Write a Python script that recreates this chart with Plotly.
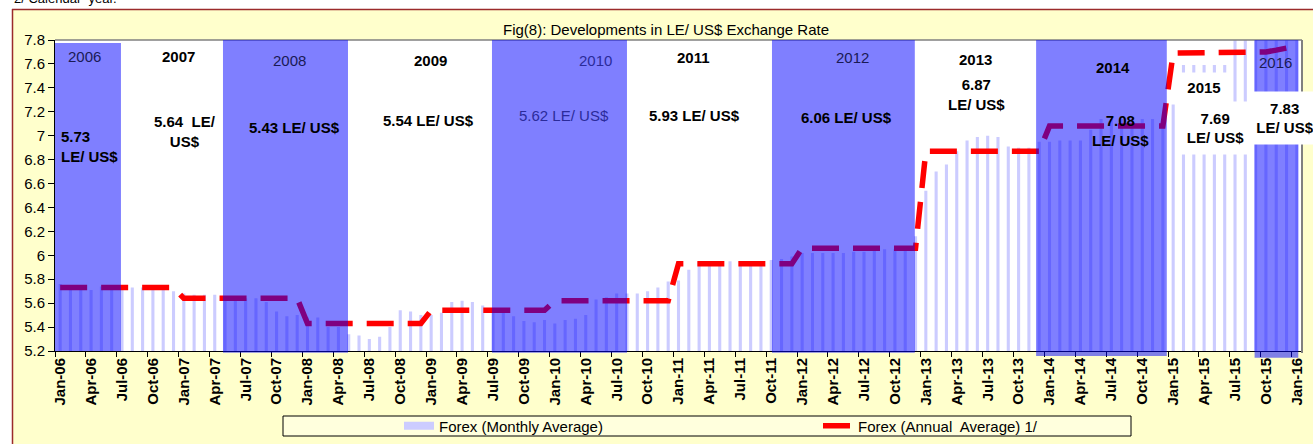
import plotly.graph_objects as go

# ---------------- data ----------------
MONTH_NAMES = ["Jan", "Feb", "Mar", "Apr", "May", "Jun",
               "Jul", "Aug", "Sep", "Oct", "Nov", "Dec"]
YEARS = [6, 7, 8, 9, 10, 11, 12, 13, 14, 15]
months = [f"{m}-{y:02d}" for y in YEARS for m in MONTH_NAMES] + ["Jan-16"]

# Forex (Monthly Average), LE per US$
monthly_avg = [
    5.76, 5.74, 5.74, 5.71, 5.74, 5.74, 5.74, 5.73, 5.73, 5.74, 5.72, 5.70,   # 2006
    5.68, 5.67, 5.67, 5.67, 5.65, 5.65, 5.64, 5.64, 5.61, 5.53, 5.49, 5.50,   # 2007
    5.48, 5.48, 5.40, 5.40, 5.34, 5.33, 5.30, 5.32, 5.40, 5.54, 5.53, 5.50,   # 2008
    5.50, 5.52, 5.61, 5.62, 5.61, 5.58, 5.54, 5.52, 5.49, 5.45, 5.44, 5.46,   # 2009
    5.43, 5.46, 5.47, 5.50, 5.63, 5.65, 5.68, 5.68, 5.68, 5.70, 5.73, 5.78,   # 2010
    5.79, 5.88, 5.94, 5.95, 5.95, 5.95, 5.95, 5.95, 5.95, 5.96, 5.97, 5.99,   # 2011
    6.02, 6.02, 6.02, 6.02, 6.02, 6.03, 6.03, 6.06, 6.05, 6.05, 6.05, 6.16,   # 2012
    6.54, 6.70, 6.76, 6.87, 6.96, 6.99, 7.00, 6.99, 6.91, 6.90, 6.90, 6.95,   # 2013
    6.95, 6.96, 6.96, 6.96, 7.05, 7.14, 7.14, 7.14, 7.14, 7.14, 7.14, 7.14,   # 2014
    7.26, 7.59, 7.59, 7.59, 7.59, 7.59, 7.83, 7.83, 7.83, 7.83, 7.83, 7.83,   # 2015
    7.83,                                                                     # 2016
]

# Forex (Annual Average) 1/ -- each month carries its calendar-year average
annual_line = (
    [5.73] * 12 + [5.64] * 12 + [5.43] * 12 + [5.54] * 12 + [5.62] * 12
    + [5.93] * 12 + [6.06] * 12 + [6.87] * 12 + [7.08] * 12
    + [7.69] * 9 + [7.70, 7.715, 7.73] + [7.75]
)

# year labels and annual-average labels
year_labels = ["2006", "2007", "2008", "2009", "2010", "2011",
               "2012", "2013", "2014", "2015", "2016"]
avg_labels = ["5.73<br>LE/ US$", "5.64 \u00a0LE/<br>US$", "5.43 LE/ US$",
              "5.54 LE/ US$", "5.62 LE/ US$", "5.93 LE/ US$", "6.06 LE/ US$",
              "6.87<br>LE/ US$", "7.08<br>LE/ US$", "7.69<br>LE/ US$",
              "7.83<br>LE/ US$"]

# shaded (blue) year bands, in month-index units on the category axis
shade_x0 = [-0.5, 15.8, 41.9, 69.07, 94.7, 115.9]
shade_x1 = [5.9, 27.93, 55.0, 82.93, 107.38, 120.14]
shade_y0 = [0.0, -0.006, -0.006, -0.006, -0.016, -0.022]   # paper fraction
shade_y1 = [0.99, 1.0, 1.0, 1.0, 1.0, 1.0]

# ---------------- layout helpers ----------------
FONT = "Liberation Sans, Arial, sans-serif"
W, H = 1313, 444
ML, MR, MT, MB = 55, 11, 40, 93
PW = W - ML - MR
PH = H - MT - MB


def fx(p):  # pixel -> paper x
    return (p - ML) / PW


def fy(p):  # pixel -> paper y
    return (H - MB - p) / PH


NAVY = "#1a1a55"
BLUE_TXT = "#2B2B9A"

fig = go.Figure()

fig.add_trace(go.Bar(
    x=months, y=monthly_avg, width=0.3,
    marker=dict(color="#CCCCFF", line=dict(width=0)),
    name="Forex (Monthly Average)", showlegend=False,
))
fig.add_trace(go.Scatter(
    x=[None], y=[None], mode="lines",
    line=dict(color="#CCCCFF", width=8),
    name="Forex (Monthly Average)",
))
fig.add_trace(go.Scatter(
    x=months, y=annual_line, mode="lines",
    line=dict(color="#FF0000", width=5.5, dash="27px,14px"),
    name="Forex (Annual\u00a0 Average) 1/",
))

shapes = []
# page white strips outside the chart frame
shapes.append(dict(type="rect", xref="paper", yref="paper", layer="below",
                   x0=fx(-10), x1=fx(W + 10), y0=fy(9), y1=fy(-20),
                   fillcolor="white", line=dict(width=0)))
shapes.append(dict(type="rect", xref="paper", yref="paper", layer="below",
                   x0=fx(-10), x1=fx(12), y0=fy(H + 20), y1=fy(-20),
                   fillcolor="white", line=dict(width=0)))
# dark red frame
shapes.append(dict(type="line", xref="paper", yref="paper", layer="below",
                   x0=fx(12.5), x1=fx(12.5), y0=fy(H + 20), y1=fy(9),
                   line=dict(color="#9B2B2B", width=1.5)))
shapes.append(dict(type="line", xref="paper", yref="paper", layer="below",
                   x0=fx(12), x1=fx(W + 20), y0=fy(9.5), y1=fy(9.5),
                   line=dict(color="#9B2B2B", width=1.5)))
# legend box
shapes.append(dict(type="rect", xref="paper", yref="paper", layer="below",
                   x0=fx(283), x1=fx(1131), y0=fy(436), y1=fy(416),
                   fillcolor="#FFFFDD", line=dict(color="black", width=1)))
# plot-area border (top and right)
shapes.append(dict(type="line", xref="paper", yref="paper", layer="above",
                   x0=0, x1=1, y0=1, y1=1, line=dict(color="#808080", width=1.5)))
shapes.append(dict(type="line", xref="paper", yref="paper", layer="above",
                   x0=1, x1=1, y0=fy(353), y1=1, line=dict(color="#808080", width=2)))
# translucent blue year bands (over bars and line)
for a, b, c, d in zip(shade_x0, shade_x1, shade_y0, shade_y1):
    shapes.append(dict(type="rect", xref="x", yref="paper", layer="above",
                       x0=a, x1=b, y0=c, y1=d,
                       fillcolor="rgba(0,0,255,0.5)", line=dict(width=0)))

# annotation specs: (text, month-index, value, bold, color, anchor, box)
ann_specs = [
    (year_labels[0], 2.41, 7.658, False, NAVY, "center", None),
    (avg_labels[0], -0.12, 6.906, True, "black", "left", None),
    (year_labels[1], 11.53, 7.658, True, "black", "center", None),
    (avg_labels[1], 12.11, 7.031, True, "black", "center", None),
    (year_labels[2], 22.3, 7.625, False, NAVY, "center", None),
    (avg_labels[2], 22.78, 7.065, True, "black", "center", None),
    (year_labels[3], 35.9, 7.625, True, "black", "center", None),
    (avg_labels[3], 35.7, 7.123, True, "black", "center", None),
    (year_labels[4], 51.9, 7.625, False, BLUE_TXT, "center", None),
    (avg_labels[4], 48.88, 7.165, False, BLUE_TXT, "center", None),
    (year_labels[5], 61.5, 7.65, True, "black", "center", None),
    (avg_labels[5], 61.6, 7.173, True, "black", "center", None),
    (year_labels[6], 76.9, 7.65, False, NAVY, "center", None),
    (avg_labels[6], 76.3, 7.148, True, "black", "center", None),
    (year_labels[7], 88.86, 7.641, True, "black", "center", None),
    (avg_labels[7], 88.9, 7.345, True, "black", "center", None),
    (year_labels[8], 102.2, 7.566, True, "black", "center", None),
    (avg_labels[8], 102.9, 7.04, True, "black", "center", None),
    (year_labels[9], 111.0, 7.407, True, "black", "center", (48, 27)),
    (avg_labels[9], 112.1, 7.065, True, "black", "center", (71, 50)),
    (year_labels[10], 117.9, 7.616, False, NAVY, "center", None),
    (avg_labels[10], 118.85, 7.148, True, "black", "center", (60, 50)),
]

annotations = []
for text, xi, yv, bold, color, anchor, box in ann_specs:
    a = dict(x=xi, y=yv, xref="x", yref="y", showarrow=False,
             text=f"<b>{text}</b>" if bold else text,
             xanchor=anchor, yanchor="middle", align=anchor,
             font=dict(family=FONT, size=15, color=color))
    if box:
        a.update(bgcolor="white", width=box[0], height=box[1])
    annotations.append(a)

annotations.append(dict(x=fx(12), y=fy(-1), xref="paper", yref="paper",
                        showarrow=False, text="2/ Calendar  year.",
                        xanchor="left", yanchor="middle",
                        font=dict(family=FONT, size=13, color="black")))

fig.update_layout(
    width=W, height=H,
    margin=dict(l=ML, r=MR, t=MT, b=MB, autoexpand=False),
    paper_bgcolor="#FFFFCC", plot_bgcolor="white",
    font=dict(family=FONT, size=15, color="black"),
    title=dict(text="Fig(8): Developments in LE/ US$ Exchange Rate",
               x=fx(666), xref="paper", xanchor="center",
               y=1 - 30 / H, yref="container", yanchor="middle",
               font=dict(family=FONT, size=15, color="black")),
    bargap=0.7,
    shapes=shapes,
    annotations=annotations,
    showlegend=True,
    legend=dict(orientation="h", xref="container", yref="container",
                x=399 / W, y=1 - 426 / H, xanchor="left", yanchor="middle",
                entrywidth=374, entrywidthmode="pixels",
                bgcolor="rgba(0,0,0,0)", borderwidth=0,
                font=dict(family=FONT, size=15, color="black")),
    xaxis=dict(type="category", range=[-0.5, len(months) - 0.5],
               tickmode="linear", tick0=0, dtick=3, tickson="boundaries",
               ticks="outside", ticklen=5, tickcolor="black", tickwidth=1,
               tickangle=-90, showline=True, linecolor="black", linewidth=1,
               showgrid=False, zeroline=False,
               tickfont=dict(family=FONT, size=15, color="black", weight="bold")),
    yaxis=dict(range=[5.2, 7.8], tickmode="linear", tick0=5.2, dtick=0.2,
               ticks="outside", ticklen=6, tickcolor="black", tickwidth=1,
               showline=True, linecolor="black", linewidth=1,
               showgrid=False, zeroline=False,
               tickfont=dict(family=FONT, size=15, color="black")),
)

# the page's default 8px body margin would shift the figure; remove it
fig.write_html("out.html",
               config={"displayModeBar": False},
               post_script="document.body.style.margin='0';"
                           "document.body.style.overflow='hidden';")
